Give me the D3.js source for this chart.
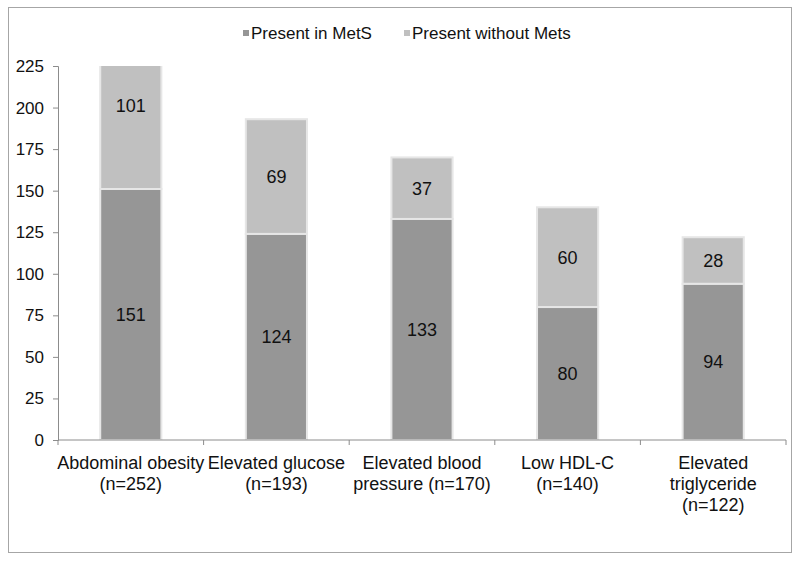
<!DOCTYPE html>
<html><head><meta charset="utf-8">
<script src="https://cdn.jsdelivr.net/npm/d3@7"></script>
<style>body{margin:0;background:#fff}text{font-family:"Liberation Sans",Arial,sans-serif}</style>
</head><body>
<svg id="c" width="800" height="561"></svg>
<script>
const categories = [["Abdominal obesity","(n=252)"],["Elevated glucose","(n=193)"],["Elevated blood","pressure (n=170)"],["Low HDL-C","(n=140)"],["Elevated","triglyceride","(n=122)"]];
const seriesNames = ["Present in MetS","Present without Mets"];
const inMetS = [151,124,133,80,94];
const withoutMets = [101,69,37,60,28];
const yTicks = [0,25,50,75,100,125,150,175,200,225];
const colors = ["#969696","#c0c0c0"];

const svg = d3.select("#c");
svg.append("rect").attr("x",8.5).attr("y",7.5).attr("width",783).attr("height",545)
  .attr("fill","#fff").attr("stroke","#a6a6a6").attr("stroke-width",1);

const m = {l:58,r:786,t:66,b:440};
const x = d3.scaleBand().domain(d3.range(categories.length)).range([m.l,m.r]).paddingInner(0.58).paddingOuter(0.29);
const xb = d3.scaleBand().domain(d3.range(categories.length)).range([m.l,m.r]);
const y = d3.scaleLinear().domain([0,225]).range([m.b,m.t]);

svg.append("clipPath").attr("id","clip").append("rect")
  .attr("x",m.l).attr("y",m.t).attr("width",m.r-m.l).attr("height",m.b-m.t);

const data = categories.map((c,i)=>({i, a:inMetS[i], b:withoutMets[i]}));
const stack = d3.stack().keys(["a","b"])(data);

const g = svg.append("g").attr("clip-path","url(#clip)");
stack.forEach((s,k)=>{
  g.selectAll(null).data(s).enter().append("rect")
    .attr("x",d=>x(d.data.i)).attr("width",x.bandwidth())
    .attr("y",d=>y(d[1])).attr("height",d=>y(d[0])-y(d[1]))
    .attr("fill",colors[k]).attr("stroke","#e6e6e6").attr("stroke-width",2);
});
stack.forEach((s,k)=>{
  svg.selectAll(null).data(s).enter().append("text")
    .attr("x",d=>x(d.data.i)+x.bandwidth()/2).attr("y",d=>y((d[0]+d[1])/2))
    .attr("dy","0.36em").attr("text-anchor","middle").attr("font-size",18).attr("fill","#111")
    .text(d=>d[1]-d[0]);
});

// y axis
const ya = svg.append("g").attr("transform",`translate(${m.l},0)`)
  .call(d3.axisLeft(y).tickValues(yTicks).tickSize(5).tickPadding(9));
ya.select(".domain").attr("stroke","#8c8c8c");
ya.selectAll(".tick line").attr("stroke","#8c8c8c");
ya.selectAll(".tick text").attr("font-size",17).attr("fill","#111").attr("font-family","Liberation Sans, Arial, sans-serif");

// x axis
const xa = svg.append("g").attr("transform",`translate(0,${m.b})`);
xa.append("line").attr("x1",m.l).attr("x2",m.r).attr("stroke","#8c8c8c");
xa.selectAll(null).data(d3.range(categories.length+1)).enter().append("line")
  .attr("x1",i=>i<categories.length?xb(i):m.r).attr("x2",i=>i<categories.length?xb(i):m.r)
  .attr("y1",0).attr("y2",5).attr("stroke","#8c8c8c");
categories.forEach((lines,i)=>{
  const t = xa.append("text").attr("text-anchor","middle").attr("font-size",18).attr("fill","#111")
    .attr("x",xb(i)+xb.bandwidth()/2).attr("y",29);
  lines.forEach((l,j)=>t.append("tspan").attr("x",xb(i)+xb.bandwidth()/2).attr("dy",j?21:0).text(l));
});

// legend
const lg = svg.append("g");
const lx = [243,404];
seriesNames.forEach((n,k)=>{
  lg.append("rect").attr("x",lx[k]).attr("y",30).attr("width",6).attr("height",6).attr("fill",colors[k]);
  lg.append("text").attr("x",lx[k]+8).attr("y",39).attr("font-size",17).attr("fill","#111").text(n);
});
</script>
</body></html>
